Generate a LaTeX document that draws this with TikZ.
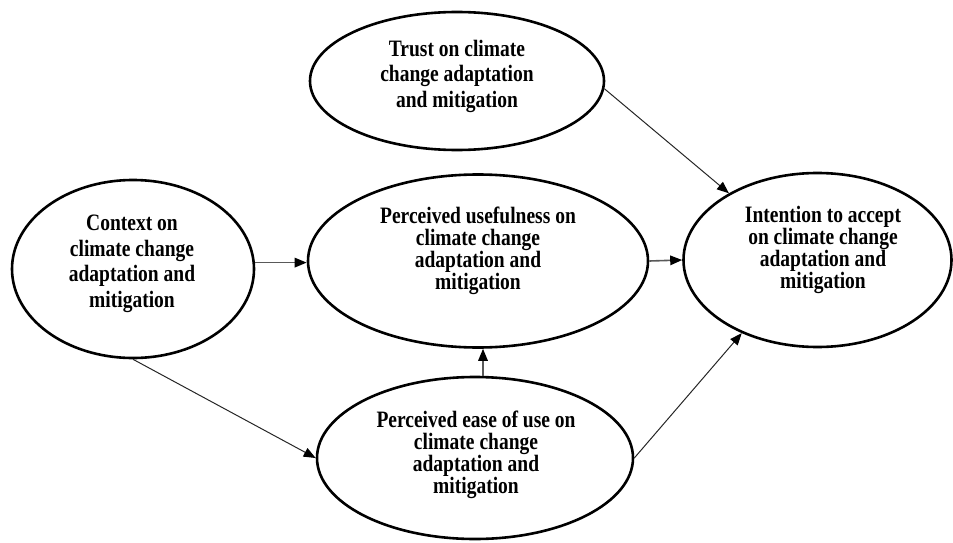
\documentclass[tikz,border=0pt]{standalone}
\usepackage{fontspec}
\setmainfont{Liberation Serif}
\newfontfamily\lblfont[FakeStretch=0.83]{Liberation Serif Bold}
\usetikzlibrary{shapes.geometric,arrows.meta}
\tikzset{
  oval/.style={ellipse, draw=black, line width=2.6pt, inner sep=0pt, fill=none},
  lbl/.style={align=center, inner sep=0pt, font=\lblfont\fontsize{23.5}{22}\selectfont},
  lblwide/.style={align=center, inner sep=0pt, font=\lblfont\fontsize{23.5}{25.5}\selectfont},
  arr/.style={-{Triangle[length=12pt,width=9.5pt,color=black]}, line width=1pt, draw=black!85},
  harr/.style={-{Triangle[length=12pt,width=9.5pt,color=black]}, line width=1.6pt, draw=black!65}
}
\begin{document}
\begin{tikzpicture}[x=1pt,y=-1pt]
\useasboundingbox (0,0) rectangle (953,543);
% ellipses
\node[oval, minimum width=294pt, minimum height=138pt] (trust) at (457,81) {};
\node[oval, minimum width=242pt, minimum height=178pt] (context) at (133,269) {};
\node[oval, minimum width=340pt, minimum height=173pt] (pu) at (478,261) {};
\node[oval, minimum width=268pt, minimum height=174pt] (intent) at (817.5,260) {};
\node[oval, minimum width=316pt, minimum height=162pt] (ease) at (475,458) {};
% labels
\node[lblwide] (trustt) at (457,76) {Trust on climate\\change adaptation\\and mitigation};
\node[lblwide] (contextt) at (132,264) {Context on\\climate change\\adaptation and\\mitigation};
\node[lbl] (put) at (478,251) {Perceived usefulness on\\climate change\\adaptation and\\mitigation};
\node[lbl] (intentt) at (823,250) {Intention to accept\\on climate change\\adaptation and\\mitigation};
\node[lbl] (easet) at (476,455) {Perceived ease of use on\\climate change\\adaptation and\\mitigation};
% connectors
\draw[harr] (context.3) -- (context.3 -| pu.west);
\draw[harr] (pu.east) -- (intent.west);
\draw[harr] ([xshift=5pt]pu.south |- ease.north) -- ([xshift=5pt]pu.south);
\draw[arr] (trust.-3) -- (intent.143);
\draw[arr] (context.south) -- (ease.west);
\draw[arr] (ease.east) -- (intent.-136);
\end{tikzpicture}
\end{document}
